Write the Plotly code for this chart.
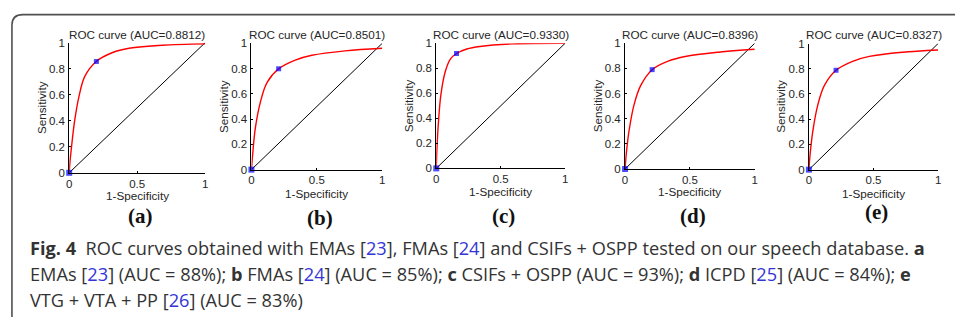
import plotly.graph_objects as go

W, H = 956, 321

# ---- data -------------------------------------------------------------
panel_labels = ["(a)", "(b)", "(c)", "(d)", "(e)"]
auc_text = ["0.8812", "0.8501", "0.9330", "0.8396", "0.8327"]

fpr_a = [0, 0.005, 0.017, 0.041, 0.073, 0.114, 0.199, 0.32, 0.44, 0.683, 1.0]
tpr_a = [0, 0.074, 0.197, 0.406, 0.591, 0.739, 0.855, 0.924, 0.956, 0.98, 0.99]

fpr_b = [0, 0.01, 0.03, 0.069, 0.119, 0.208, 0.335, 0.462, 0.716, 1.0]
tpr_b = [0, 0.128, 0.33, 0.536, 0.689, 0.798, 0.867, 0.905, 0.94, 0.96]

fpr_c = [0, 0.005, 0.018, 0.036, 0.069, 0.108, 0.157, 0.237, 0.339, 0.596, 1.0]
tpr_c = [0, 0.154, 0.385, 0.59, 0.77, 0.872, 0.918, 0.954, 0.974, 0.995, 1.0]

fpr_d = [0, 0.01, 0.031, 0.069, 0.12, 0.209, 0.337, 0.464, 0.719, 1.0]
tpr_d = [0, 0.128, 0.306, 0.51, 0.663, 0.79, 0.86, 0.895, 0.929, 0.952]

fpr_e = [0, 0.01, 0.031, 0.069, 0.12, 0.21, 0.338, 0.467, 0.723, 1.0]
tpr_e = [0, 0.13, 0.31, 0.514, 0.668, 0.788, 0.859, 0.898, 0.931, 0.949]

curves_fpr = [fpr_a, fpr_b, fpr_c, fpr_d, fpr_e]
curves_tpr = [tpr_a, tpr_b, tpr_c, tpr_d, tpr_e]

# operating points (1-specificity, sensitivity)
op_fpr = [0.2, 0.208, 0.157, 0.209, 0.21]
op_tpr = [0.855, 0.798, 0.918, 0.79, 0.788]

chance_x = [0, 1]
chance_y = [0, 1]

x_ticks = [0, 0.5, 1]
x_ticktext = ["0", "0.5", "1"]
y_ticks = [0, 0.2, 0.4, 0.6, 0.8, 1]
y_ticktext = ["0", "0.2", "0.4", "0.6", "0.8", "1"]

# ---- layout geometry (pixels: left, top, right, bottom) -----------------
boxes = [
    (66.6, 38.0, 203.5, 173.3),
    (250.0, 38.7, 381.7, 170.0),
    (436.0, 38.7, 565.7, 168.7),
    (626.0, 38.7, 756.5, 169.3),
    (811.0, 39.0, 941.0, 170.0),
]
xtitle_y = [197, 195, 193, 193, 195]
label_y = [218, 220, 218, 218, 214]

AX_FONT = "Liberation Sans, Arial, sans-serif"
TXT = "#262626"


def px(x):
    return x / W


def py(y):
    return 1 - y / H


fig = go.Figure()
annotations = []
layout_axes = {}

for i in range(5):
    n = "" if i == 0 else str(i + 1)
    xa, ya = "x" + n, "y" + n
    l, t, r, b = boxes[i]

    fig.add_trace(go.Scatter(x=chance_x, y=chance_y, mode="lines",
                             line=dict(color="black", width=1),
                             xaxis=xa, yaxis=ya, hoverinfo="skip"))
    fig.add_trace(go.Scatter(x=curves_fpr[i], y=curves_tpr[i], mode="lines",
                             line=dict(color="#ff0000", width=1.4,
                                       shape="spline", smoothing=1.0),
                             xaxis=xa, yaxis=ya, hoverinfo="skip"))
    fig.add_trace(go.Scatter(x=[0, op_fpr[i]], y=[0, op_tpr[i]], mode="markers",
                             marker=dict(symbol="square", size=[6, 5],
                                         color="#0000ff", line=dict(width=0)),
                             cliponaxis=False,
                             xaxis=xa, yaxis=ya, hoverinfo="skip"))

    common = dict(showline=True, linecolor="black", linewidth=1,
                  showgrid=False, zeroline=False, ticks="inside",
                  ticklen=2, tickcolor="black",
                  tickfont=dict(family=AX_FONT, size=11.5, color=TXT),
                  range=[0, 1], fixedrange=True)
    layout_axes["xaxis" + n] = dict(common, domain=[px(l), px(r)], anchor=ya,
                                    tickvals=x_ticks, ticktext=x_ticktext)
    layout_axes["yaxis" + n] = dict(common, domain=[py(b), py(t)], anchor=xa,
                                    tickvals=y_ticks, ticktext=y_ticktext,
                                    ticklabelstandoff=1)

    cx = (l + r) / 2
    annotations.append(dict(text="ROC curve (AUC=" + auc_text[i] + ")",
                            x=px(cx), y=py(30), xref="paper", yref="paper",
                            xanchor="center", yanchor="middle", showarrow=False,
                            font=dict(family=AX_FONT, size=11.7, color=TXT)))
    annotations.append(dict(text="1-Specificity",
                            x=px(cx), y=py(xtitle_y[i]), xref="paper", yref="paper",
                            xanchor="center", yanchor="middle", showarrow=False,
                            font=dict(family=AX_FONT, size=11.7, color=TXT)))
    annotations.append(dict(text="Sensitivity", textangle=-90,
                            x=px(l - 28), y=py((t + b) / 2), xref="paper", yref="paper",
                            xanchor="center", yanchor="middle", showarrow=False,
                            font=dict(family=AX_FONT, size=11.7, color=TXT)))
    annotations.append(dict(text="<b>" + panel_labels[i] + "</b>",
                            x=px(cx + 3), y=py(label_y[i]), xref="paper", yref="paper",
                            xanchor="center", yanchor="middle", showarrow=False,
                            font=dict(family="Liberation Serif, Times New Roman, serif",
                                      size=21, color="#111111")))

# ---- caption ------------------------------------------------------------
CAP_FONT = "Open Sans, Noto Sans, sans-serif"
BLUE = "#3535d6"
eq = " = "
pl = " + "


def ref(num):
    return "[<span style='color:" + BLUE + "'>" + num + "</span>]"


caption_lines = [
    "<b>Fig. 4</b>\u00a0\u00a0ROC curves obtained with EMAs " + ref("23") + ", FMAs " + ref("24")
    + " and CSIFs" + pl + "OSPP tested on our speech database. <b>a</b>",
    "EMAs " + ref("23") + " (AUC" + eq + "88%); <b>b</b> FMAs " + ref("24") + " (AUC" + eq
    + "85%); <b>c</b> CSIFs" + pl + "OSPP (AUC" + eq + "93%); <b>d</b> ICPD " + ref("25")
    + " (AUC" + eq + "84%); <b>e</b>",
    "VTG" + pl + "VTA" + pl + "PP " + ref("26") + " (AUC" + eq + "83%)",
]
caption_y = [251, 278, 305]
for line, yy in zip(caption_lines, caption_y):
    annotations.append(dict(text=line, x=px(25), y=py(yy), xref="paper", yref="paper",
                            xanchor="left", yanchor="middle", showarrow=False,
                            font=dict(family=CAP_FONT, size=18.2, color="#333333")))

# ---- frame around the figure (top and left edges with a rounded corner) ---
rad = 11
path = (f"M {px(9)},{py(H + 2)} L {px(9)},{py(9 + rad)} "
        f"Q {px(9)},{py(9)} {px(9 + rad)},{py(9)} L {px(W + 2)},{py(9)}")
shapes = [dict(type="path", path=path, xref="paper", yref="paper",
               line=dict(color="#505050", width=1.6))]

fig.update_layout(
    width=W, height=H,
    margin=dict(l=0, r=0, t=0, b=0),
    paper_bgcolor="white", plot_bgcolor="white",
    showlegend=False,
    annotations=annotations,
    shapes=shapes,
    **layout_axes,
)

fig.write_html("out.html", config={"displayModeBar": False})
